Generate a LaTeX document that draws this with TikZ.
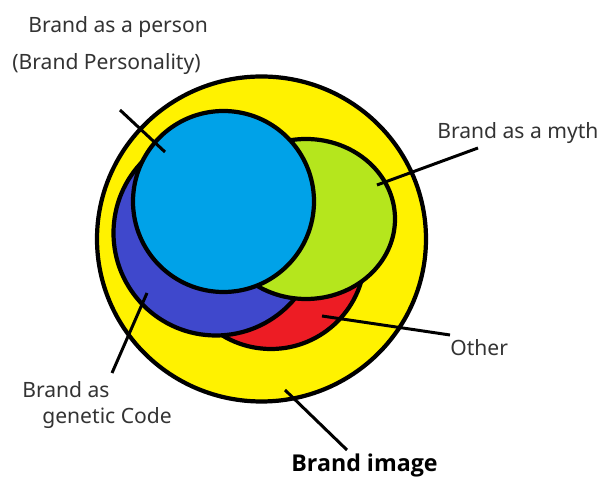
\documentclass[tikz,border=0pt]{standalone}
\usepackage{fontspec}
\setmainfont{Noto Sans}[AutoFakeBold=2.5]
\newfontfamily\titlefont{Open Sans}
\usepackage{tikz}
\usetikzlibrary{positioning}
\definecolor{ringyellow}{RGB}{255,242,0}
\definecolor{personblue}{RGB}{0,162,232}
\definecolor{mythgreen}{RGB}{181,230,29}
\definecolor{codeblue}{RGB}{63,72,204}
\definecolor{otherred}{RGB}{237,28,36}

\begin{document}
\begin{tikzpicture}[
    region/.style={draw=black, line width=2.4pt},
    tagtext/.style={font=\fontsize{12}{14}\selectfont, text=black!80, anchor=base west, inner sep=0pt},
    leader/.style={draw=black, line width=1.7pt}
]
\useasboundingbox (0,0) rectangle (12,-9.54);

\filldraw[region,fill=ringyellow] (5.23,-4.78) ellipse [x radius=3.29cm, y radius=3.25cm];
\filldraw[region,fill=otherred] (5.42,-5.10) circle (1.88cm);
\filldraw[region,fill=codeblue] (4.32,-4.66) circle (2.05cm);
\filldraw[region,fill=mythgreen] (6.12,-4.38) ellipse [x radius=1.78cm, y radius=1.60cm];
\filldraw[region,fill=personblue] (4.47,-4.03) circle (1.81cm);

\node[tagtext] (person) at (0.56,-0.66) {Brand as a person};
\node[tagtext] (personality) at (0.24,-1.40) {(Brand Personality)};
\node[tagtext] (myth) at (8.74,-2.78) {Brand as a myth};
\node[tagtext] (other) at (9.00,-7.12) {Other};
\node[tagtext] (codeA) at (0.44,-7.96) {Brand as};
\node[tagtext] (codeB) at (0.84,-8.48) {genetic Code};
\node[tagtext,text=black,font=\titlefont\fontsize{13.2}{16}\selectfont\bfseries] (image) at (5.82,-9.44) {Brand image};

\coordinate (personOut) at (2.40,-2.20);
\coordinate (personIn) at (3.30,-3.04);
\coordinate (mythOut) at (9.56,-2.96);
\coordinate (mythIn) at (7.54,-3.70);
\coordinate (otherOut) at (9.00,-6.70);
\coordinate (otherIn) at (6.44,-6.32);
\coordinate (codeOut) at (2.24,-7.46);
\coordinate (codeIn) at (2.94,-5.86);
\coordinate (imageOut) at (6.94,-9.00);
\coordinate (imageIn) at (5.70,-7.80);

\draw[leader] (personOut) -- (personIn);
\draw[leader] (mythOut) -- (mythIn);
\draw[leader] (otherOut) -- (otherIn);
\draw[leader] (codeOut) -- (codeIn);
\draw[leader] (imageOut) -- (imageIn);
\end{tikzpicture}
\end{document}
